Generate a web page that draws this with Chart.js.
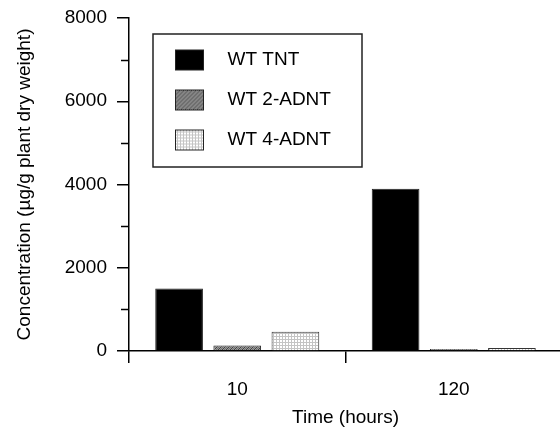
<!DOCTYPE html>
<html>
<head>
<meta charset="utf-8">
<script src="https://cdn.jsdelivr.net/npm/chart.js@4.4.1/dist/chart.umd.min.js"></script>
<style>
  html, body { margin: 0; padding: 0; background: #fff; overflow: hidden; }
  #wrap { width: 565px; height: 434px; }
</style>
</head>
<body>
<div id="wrap"><canvas id="myChart" width="565" height="434"></canvas></div>
<script>
// Data
const categories = ['10', '120'];
const tntValues = [1500, 3900];
const adnt2Values = [130, 50];
const adnt4Values = [460, 70];
const yTicks = [0, 2000, 4000, 6000, 8000];
const yMinorTicks = [1000, 3000, 5000, 7000];

// small tiles used as fill patterns
function hatchTile() {
    const t = document.createElement('canvas');
    t.width = 4; t.height = 4;
    const g = t.getContext('2d');
    g.fillStyle = '#9a9a9a';
    g.fillRect(0, 0, 4, 4);
    g.fillStyle = '#444';
    for (let i = 0; i < 4; i++) g.fillRect(i, 3 - i, 1, 1);
    g.fillStyle = '#707070';
    for (let i = 0; i < 4; i++) g.fillRect(i, (5 - i) % 4, 1, 1);
    return t;
}
function dotTile() {
    const t = document.createElement('canvas');
    t.width = 3; t.height = 3;
    const g = t.getContext('2d');
    g.fillStyle = '#fff';
    g.fillRect(0, 0, 3, 3);
    g.fillStyle = '#c4c4c4';
    g.fillRect(0, 0, 1, 3);
    g.fillRect(0, 0, 3, 1);
    return t;
}

const ctx = document.getElementById('myChart').getContext('2d');
const hatchFill = ctx.createPattern(hatchTile(), 'repeat');
const dotFill = ctx.createPattern(dotTile(), 'repeat');

// legend swatch with some blank room so the text sits further right
function makeSwatch(tile) {
    const c = document.createElement('canvas');
    c.width = 68; c.height = 23;
    const g = c.getContext('2d');
    g.fillStyle = tile ? g.createPattern(tile, 'repeat') : '#000';
    g.fillRect(25, 1, 29, 21);
    g.strokeStyle = '#222';
    g.lineWidth = 1;
    g.strokeRect(25.5, 1.5, 28, 20);
    return c;
}

// minor ticks on the y axis
const minorTicks = {
    id: 'minorTicks',
    afterDraw(chart) {
        const y = chart.scales.y;
        const c = chart.ctx;
        c.save();
        c.strokeStyle = '#000';
        c.lineWidth = 1.5;
        yMinorTicks.forEach(v => {
            const py = Math.round(y.getPixelForValue(v)) + 0.5;
            c.beginPath();
            c.moveTo(y.right - 8, py);
            c.lineTo(y.right, py);
            c.stroke();
        });
        c.restore();
    }
};

// frame around the legend
const legendFrame = {
    id: 'legendFrame',
    afterDraw(chart) {
        const area = chart.chartArea;
        const c = chart.ctx;
        c.save();
        c.strokeStyle = '#222';
        c.lineWidth = 1.5;
        c.strokeRect(area.left + 24, area.top + 16, 209, 133);
        c.restore();
    }
};

Chart.defaults.font.family = "'Liberation Sans', Arial, sans-serif";
Chart.defaults.font.size = 19;
Chart.defaults.color = '#000';

let myChart = new Chart(ctx, {
    type: 'bar',
    data: {
        labels: categories,
        datasets: [{
            label: 'WT TNT',
            data: tntValues,
            backgroundColor: '#000',
            borderColor: '#222',
            borderWidth: 1,
            pointStyle: makeSwatch(null)
        }, {
            label: 'WT 2-ADNT',
            data: adnt2Values,
            backgroundColor: hatchFill,
            borderColor: '#222',
            borderWidth: 1,
            pointStyle: makeSwatch(hatchTile())
        }, {
            label: 'WT 4-ADNT',
            data: adnt4Values,
            backgroundColor: dotFill,
            borderColor: '#333',
            borderWidth: 1,
            pointStyle: makeSwatch(dotTile())
        }]
    },
    options: {
        responsive: false,
        animation: false,
        layout: { padding: { top: 18, right: 3, bottom: 0, left: 0 } },
        datasets: {
            bar: { categoryPercentage: 0.806, barPercentage: 0.82 }
        },
        plugins: {
            legend: {
                position: 'chartArea',
                align: 'start',
                // empty title only pushes the entries down
                title: { display: true, text: '', font: { size: 10, lineHeight: 2.95 }, padding: 0 },
                labels: {
                    usePointStyle: true,
                    pointStyleWidth: 68,
                    padding: 21,
                    color: '#000',
                    font: { size: 19 }
                }
            },
            tooltip: { enabled: false }
        },
        scales: {
            x: {
                grid: { offset: true, drawOnChartArea: false, tickLength: 12, color: '#000', lineWidth: 1.5 },
                border: { color: '#000', width: 1.5 },
                ticks: { padding: 15 },
                title: { display: true, text: 'Time (hours)', padding: { top: 0, bottom: 5 } },
                afterFit(s) { s.height = 83; }
            },
            y: {
                min: 0,
                max: 8000,
                afterBuildTicks(s) { s.ticks = yTicks.map(v => ({ value: v })); },
                ticks: { padding: 10, callback: v => String(v) },
                grid: { drawOnChartArea: false, tickLength: 12, color: '#000', lineWidth: 1.5 },
                border: { color: '#000', width: 1.5 },
                title: { display: true, text: 'Concentration (µg/g plant dry weight)', padding: { top: 13, bottom: 0 } },
                afterFit(s) { s.width = 129; s.paddingTop = 18; }
            }
        }
    },
    plugins: [minorTicks, legendFrame]
});
</script>
</body>
</html>
